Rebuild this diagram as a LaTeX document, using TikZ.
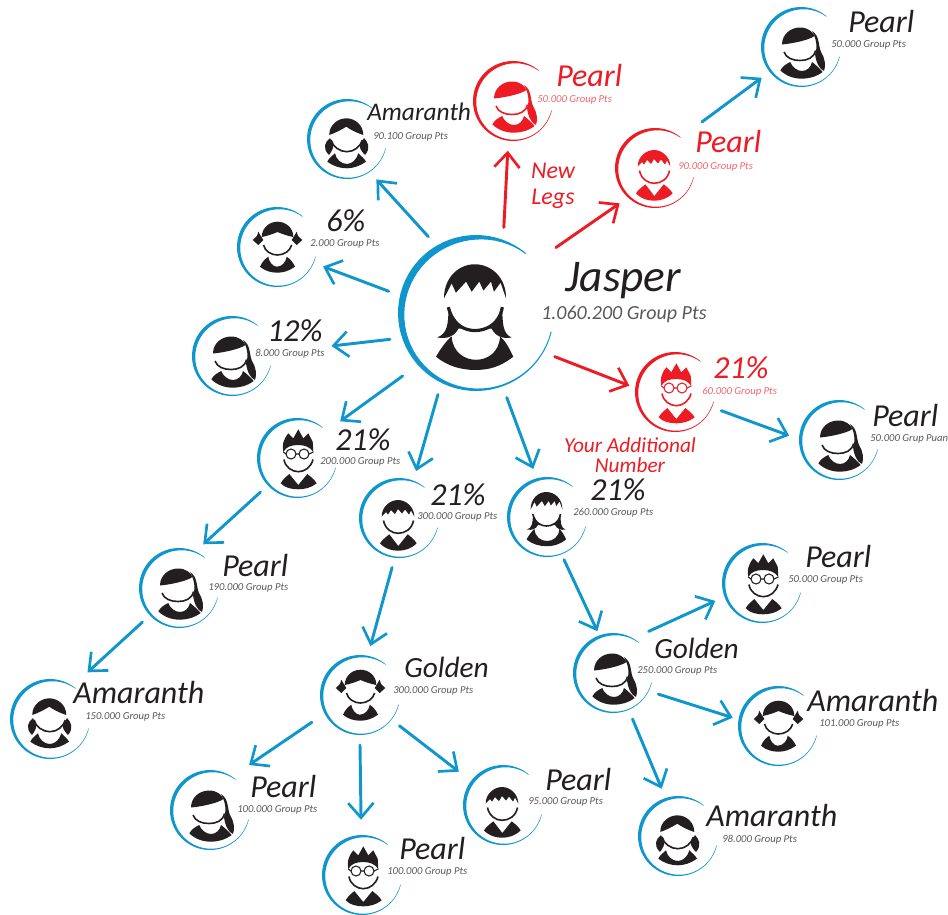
\documentclass[tikz,border=0pt]{standalone}
\usepackage{fontspec}
\setmainfont{Carlito}
\usetikzlibrary{arrows.meta}
\definecolor{ink}{HTML}{231F20}
\definecolor{blu}{HTML}{0F96CC}
\definecolor{rd}{HTML}{ED1C24}
\definecolor{rdl}{HTML}{F2666C}
\definecolor{gry}{HTML}{58595B}
\newcommand{\swirlring}{\fill[ringcol] plot[domain=-346:-50,samples=60] (\x:40)
      -- plot[domain=-50:-346,samples=60] (\x:{40-.5-3*sin(180*pow((-50-(\x))/296+0.0005,0.63))^2}) -- cycle;}
\tikzset{
  ringcol/.style={color=blu},
  chin/.style={line width=1.2pt},
  hot/.style={color=rd,ringcol/.style={color=rd}},
  big/.style={scale=1.95,chin/.style={line width=2.4pt}},
  bob/.pic={
    \swirlring
    \fill (-14.2,-3) .. controls (-14,6) and (-15,11) .. (-20,12.5) .. controls (-15,13.5) and (-11,12) .. (-9,8)
      -- (8,8) .. controls (10,12) and (14,13.5) .. (18.3,12.5) .. controls (14,11) and (13.5,6) .. (13.5,-3) -- cycle;
    \fill[white] (-14.2,-3) .. controls (-12,6) and (-6,9) .. (-.5,9) .. controls (5,9) and (12,6) .. (13.5,-3) -- cycle;
    \draw[chin] (-14.2,-3) .. controls (-12,6) and (-6,9) .. (-.5,9) .. controls (5,9) and (12,6) .. (13.5,-3);
    \fill (-16.4,-7.5) .. controls (-16.5,-18) and (-9,-25) .. (-.7,-25) .. controls (8,-25) and (15.5,-18) .. (15.4,-7.5)
      -- (12.6,-15.6) -- (9.2,-10.9) -- (7.7,-16.1) -- (3.8,-11.5) -- (1.7,-16.1) -- (-2.2,-10.9) -- (-5.1,-16.1) -- (-10.3,-10.4) -- (-12.5,-15.2) -- cycle;
    \fill (-20.5,22.4) .. controls (-18,18) and (-15,14) .. (-12.5,12) .. controls (-12,20) and (-6,24) .. (0,24)
      .. controls (6,24) and (12,20) .. (12.3,12) .. controls (15,14) and (17,18) .. (19.1,22.4)
      .. controls (12,28) and (6,29.2) .. (-.5,29.2) .. controls (-8,29.2) and (-15,27) .. cycle;
  },
  boy/.pic={
    \swirlring
    \fill (-17.3,-1.5) .. controls (-17.5,-11) and (-9,-18) .. (-1,-18) .. controls (7,-18) and (15.3,-11) .. (15.3,-1.5)
      -- (12,-7.5) -- (10,-3.5) -- (6,-8.5) -- (3,-4.5) -- (-1,-9) -- (-4,-4) -- (-8,-8) -- (-11,-3.5) -- (-13,-6) -- cycle;
    \draw[chin] (-15.5,2.5) .. controls (-14,11) and (-7,15.3) .. (-1,15.3) .. controls (6,15.3) and (13,11) .. (14.5,2.5);
    \fill (-19,25.3) .. controls (-16,21) and (-13,19) .. (-9.7,16.3) -- (-.7,28) -- (8.7,16.3)
      .. controls (12,19) and (15,21) .. (17.7,25.3) .. controls (12,31) and (5,32.7) .. (-.7,32.7) .. controls (-7,32.7) and (-14,31) .. cycle;
  },
  specs/.pic={
    \swirlring
    \fill (-13.7,-6) .. controls (-15,-13) and (-14,-18) .. (-8.7,-24.7) -- (-3.7,-19.7) -- (1.3,-28.7) -- (6.3,-19.7) -- (11.3,-24.7)
      -- (15.7,-16.3) -- (16.3,-6) .. controls (13,-11) and (8,-13) .. (1,-13) .. controls (-6,-13) and (-11,-11) .. cycle;
    \draw[line width=.8pt,fill=white] (-6,-4) circle (5) (7,-4) circle (5);
    \draw[line width=.8pt] (-1,-4) -- (2,-4) (-11,-4) -- (-13.7,-6) (12,-4) -- (16.3,-6);
    \draw[chin] (-13,1.5) .. controls (-12,9) and (-5,13.7) .. (1.3,13.7) .. controls (8,13.7) and (14,9) .. (16,1.5);
    \fill (-16.3,25.3) .. controls (-14,21) and (-11,19) .. (-7.7,16) -- (1.3,27) -- (10.3,16)
      .. controls (14,19) and (17,21) .. (19.7,25.3) .. controls (14,30) and (7,31.3) .. (1.3,31.3) .. controls (-5,31.3) and (-12,30) .. cycle;
  },
  pony/.pic={
    \swirlring
    \fill (-19,-2.5) .. controls (-19,-13) and (-10,-19.5) .. (-1,-19.5) .. controls (7,-19.5) and (12,-15) .. (13.5,-11)
      .. controls (8,-7) and (-8,-3.5) .. cycle;
    \fill (11,-16) .. controls (19,-11) and (17,-2) .. (20,5) .. controls (24,11) and (25,19) .. (23,24)
      .. controls (18,22) and (15,15) .. (14,7) .. controls (17,0) and (15,-9) .. cycle;
    \draw[chin] (-17,5) .. controls (-15,11) and (-8,13.5) .. (-1,13.5) .. controls (6,13.5) and (13,11) .. (14.5,3.5);
    \fill (-20.7,23.3) .. controls (-18,19) and (-15,17) .. (-10.7,15) .. controls (-9,20) and (-4,24) .. (1,24)
      .. controls (6,24) and (10,20) .. (11,15) .. controls (15,18) and (18,21) .. (21.7,25)
      .. controls (15,30) and (7,31.7) .. (1,31.7) .. controls (-7,31.7) and (-15,29) .. cycle;
  },
  tails/.pic={
    \swirlring
    \fill (-17.7,-4) .. controls (-18,-14) and (-9,-20.7) .. (-.7,-20.7) .. controls (8,-20.7) and (16.3,-14) .. (16.3,-4)
      .. controls (10,-6) and (4,-9) .. (-.7,-12.3) .. controls (-6,-9) and (-12,-6) .. cycle;
    \fill (-17,-1) .. controls (-22,3) and (-25,9) .. (-18,16) .. controls (-15,12) and (-13,8) .. (-14,6) -- cycle;
    \fill (17,-1) .. controls (21,3) and (24,9) .. (18,16) .. controls (14,12) and (12,8) .. (13,6) -- cycle;
    \draw[chin] (-16,1) .. controls (-14,8) and (-7,12.7) .. (-.3,12.7) .. controls (7,12.7) and (13,8) .. (15.5,1);
    \fill (-19.7,22.7) .. controls (-18,19) and (-15,17) .. (-12,14.3) .. controls (-11,20) and (-6,25) .. (0,25)
      .. controls (5,25) and (10,20) .. (11.3,14.3) .. controls (14,17) and (17,19) .. (19,22.7)
      .. controls (13,27) and (6,29.3) .. (0,29.3) .. controls (-7,29.3) and (-14,27) .. cycle;
  },
  bows/.pic={
    \swirlring
    \fill (-15.3,-10) .. controls (-15,-20) and (-7,-25.3) .. (.5,-25.3) .. controls (8,-25.3) and (16.3,-20) .. (16.3,-10)
      .. controls (11,-11) and (5,-13) .. (.5,-15) .. controls (-4,-13) and (-10,-11) .. cycle;
    \fill (-13.7,-7) -- (-18.7,-15.3) -- (-20,-11) -- (-24.3,-7) -- (-18.7,-2) -- cycle;
    \fill (14.7,-7) -- (19.7,-15.3) -- (21,-11) -- (25.3,-7) -- (19.7,-2) -- cycle;
    \draw[chin] (-13.5,-2) .. controls (-12,4) and (-6,8) .. (.3,8) .. controls (7,8) and (13,4) .. (14.7,-2);
    \fill (-17,19.7) .. controls (-15,15) and (-12,12) .. (-8.7,9.7) .. controls (-8,15) and (-4,19.7) .. (-.3,19.7)
      .. controls (5,19.7) and (9,15) .. (9.7,9.7) .. controls (13,12) and (16,15) .. (18,19.7)
      .. controls (12,24) and (6,25.7) .. (.5,25.7) .. controls (-6,25.7) and (-12,24) .. cycle;
  }
}
\begin{document}
\begin{tikzpicture}[x=.75pt,y=-.75pt,color=ink,
  main node/.style={circle,inner sep=0pt,outer sep=0pt,minimum size=75pt},
  nm/.style={anchor=west,inner sep=0pt,yshift=1pt,text=ink,font=\fontsize{24}{26}\selectfont\itshape},
  pt/.style={anchor=west,inner sep=0pt,yshift=-1pt,text=gry,font=\fontsize{8}{10}\selectfont\itshape},
  blue arrow/.style={->,>={Straight Barb[length=11pt,width=19pt,line width=2pt]},color=blu,line width=2.2pt,line cap=round},
  red arrow/.style={blue arrow,color=rd}]
  \useasboundingbox (0,0) rectangle (948,914);

  \node[main node,minimum size=135pt] (j) at (476,313) {};
  \pic[big] at (j) {bob};
  \node[nm,font=\fontsize{34}{37}\selectfont\itshape] (j1) at (565,282) {Jasper};
  \node[pt,font=\fontsize{15}{17}\selectfont\itshape] (j2) at (541,313) {1.060.200 Group Pts};

  %first line
  \node[main node] (a1) at (347,139) {};
  \pic at (a1) {tails};
  \node[nm,font=\fontsize{19}{21}\selectfont\itshape] (a1n) at (367,113) {Amaranth};
  \node[pt] (a1p) at (373,136) {90.100 Group Pts};

  \node[main node] (s6) at (277,247) {};
  \pic at (s6) {bows};
  \node[nm] (s6n) at (326,222) {6\%};
  \node[pt] (s6p) at (310,243) {2.000 Group Pts};

  \node[main node] (s12) at (232,356) {};
  \pic at (s12) {pony};
  \node[nm] (s12n) at (267,332) {12\%};
  \node[pt] (s12p) at (255,352) {8.000 Group Pts};

  \node[main node] (s21a) at (297,458) {};
  \pic at (s21a) {specs};
  \node[nm] (s21an) at (335,441) {21\%};
  \node[pt] (s21ap) at (320,461) {200.000 Group Pts};

  \node[main node] (s21b) at (399,518) {};
  \pic at (s21b) {boy};
  \node[nm] (s21bn) at (430,496) {21\%};
  \node[pt] (s21bp) at (417,516) {300.000 Group Pts};

  \node[main node] (s21c) at (547,517) {};
  \pic at (s21c) {bob};
  \node[nm] (s21cn) at (590,491) {21\%};
  \node[pt] (s21cp) at (573,511) {260.000 Group Pts};

  %red ones
  \node[main node] (r1) at (513,101) {};
  \pic[hot] at (r1) {pony};
  \node[nm,text=rd] (r1n) at (556,77) {Pearl};
  \node[pt,text=rdl] (r1p) at (537,99) {50.000 Group Pts};

  \node[main node] (r2) at (655,168) {};
  \pic[hot] at (r2) {boy};
  \node[nm,text=rd] (r2n) at (695,143) {Pearl};
  \node[pt,text=rdl] (r2p) at (678,166) {90.000 Group Pts};

  \node[main node] (r3) at (675,392) {};
  \pic[hot] at (r3) {specs};
  \node[nm,text=rd] (r3n) at (713,369) {21\%};
  \node[pt,text=rdl] (r3p) at (702,390) {60.000 Group Pts};

  \node[inner sep=0pt,text=rd,align=center,font=\fontsize{18}{20}\selectfont\itshape] (n1) at (553,186) {New\\Legs};
  \node[inner sep=0pt,text=rd,align=center,font=\fontsize{16}{15}\selectfont\itshape] (n2) at (630,455) {Your Additional\\Number};

  %second line
  \node[main node] (p7) at (801,47) {};
  \pic at (p7) {pony};
  \node[nm] (p7n) at (848,23) {Pearl};
  \node[pt] (p7p) at (831,44) {50.000 Group Pts};

  \node[main node] (p6) at (839,440) {};
  \pic at (p6) {pony};
  \node[nm] (p6n) at (872,417) {Pearl};
  \node[pt] (p6p) at (870,438) {50.000 Grup Puan};

  \node[main node] (p1) at (179,588) {};
  \pic at (p1) {pony};
  \node[nm] (p1n) at (222,567) {Pearl};
  \node[pt] (p1p) at (208,587) {190.000 Group Pts};

  \node[main node] (a2) at (50,719) {};
  \pic at (a2) {tails};
  \node[nm] (a2n) at (73,694) {Amaranth};
  \node[pt] (a2p) at (85,716) {150.000 Group Pts};

  \node[main node] (g1) at (360,695) {};
  \pic at (g1) {bows};
  \node[nm,font=\fontsize{22}{24}\selectfont\itshape] (g1n) at (404,669) {Golden};
  \node[pt] (g1p) at (393,690) {300.000 Group Pts};

  \node[main node] (p2) at (210,810) {};
  \pic at (p2) {pony};
  \node[nm] (p2n) at (250,788) {Pearl};
  \node[pt] (p2p) at (237,809) {100.000 Group Pts};

  \node[main node] (p3) at (362,875) {};
  \pic at (p3) {specs};
  \node[nm] (p3n) at (399,850) {Pearl};
  \node[pt] (p3p) at (387,871) {100.000 Group Pts};

  \node[main node] (p4) at (503,805) {};
  \pic at (p4) {boy};
  \node[nm] (p4n) at (545,781) {Pearl};
  \node[pt] (p4p) at (528,801) {95.000 Group Pts};

  \node[main node] (g2) at (613,673) {};
  \pic at (g2) {pony};
  \node[nm,font=\fontsize{22}{24}\selectfont\itshape] (g2n) at (654,650) {Golden};
  \node[pt] (g2p) at (637,670) {250.000 Group Pts};

  \node[main node] (p5) at (762,583) {};
  \pic at (p5) {specs};
  \node[nm] (p5n) at (805,558) {Pearl};
  \node[pt] (p5p) at (788,579) {50.000 Group Pts};

  \node[main node] (a3) at (778,726) {};
  \pic at (a3) {bows};
  \node[nm] (a3n) at (807,702) {Amaranth};
  \node[pt] (a3p) at (819,723) {101.000 Group Pts};

  \node[main node] (a4) at (678,836) {};
  \pic at (a4) {tails};
  \node[nm] (a4n) at (706,817) {Amaranth};
  \node[pt] (a4p) at (722,838) {98.000 Group Pts};

  \path[blue arrow]
    (j.122) edge (a1.306)
    (j.166) edge (s6.337)
    (j.197) edge[shorten >=37.5pt] (s12.5)
    (j.221) edge[shorten <=5pt,shorten >=5pt] (s21a.41)
    (j.245) edge (s21b.70)
    (j.290) edge (s21c.106)
    (s21a.223) edge (p1.61)
    (p1.223) edge[shorten >=7.5pt] (a2.53)
    (s21b.262) edge (g1.78)
    (g1.209) edge[shorten <=4pt,shorten >=7.5pt] (p2.52)
    (g1.270) edge[shorten >=4pt] (p3.91)
    (g1.322) edge[shorten >=4pt] (p4.143)
    (s21c.292) edge[shorten <=-3pt,shorten >=-4pt] (g2.111)
    (g2.52) edge[shorten <=4pt] (p5.201)
    (g2.335) edge[shorten >=-3pt] (a3.169)
    (g2.293) edge (a4.109)
    (r3.338) edge (p6.175)
    (r2.47) edge[shorten <=12pt] (p7.218);
  \path[red arrow]
    (j.72) edge (r1.264)
    (j.40) edge[shorten <=10pt] (r2.225)
    (j.331) edge[shorten >=-3pt] (r3.171);
\end{tikzpicture}
\end{document}
